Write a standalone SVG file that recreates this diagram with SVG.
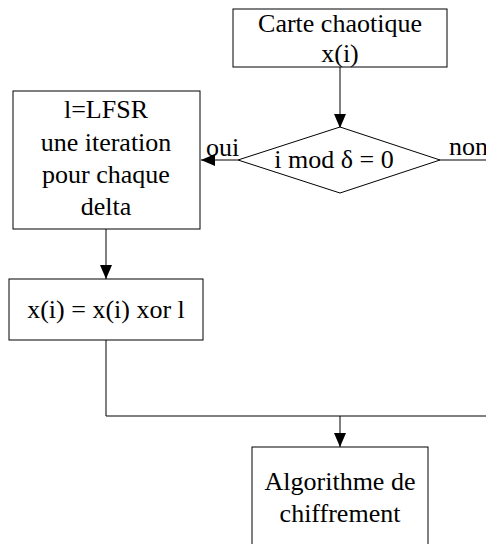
<svg xmlns="http://www.w3.org/2000/svg" width="486" height="544" viewBox="0 0 486 544">
<style>
.box{fill:#fff;stroke:#000;stroke-width:1}
.t{font-family:"Liberation Serif","Times New Roman",serif;font-size:26px;fill:#000}
.c{text-anchor:middle}
.ln{fill:none;stroke:#000;stroke-width:1}
</style>
<defs>
<marker id="ah" markerWidth="14" markerHeight="12" refX="14" refY="6" orient="auto" markerUnits="userSpaceOnUse">
<path d="M0,0 L14,6 L0,12 Z" fill="#000"/>
</marker>
</defs>
<rect width="486" height="544" fill="#fff"/>
<g id="connectors">
<line class="ln" x1="340" y1="67" x2="340" y2="128" marker-end="url(#ah)"/>
<line class="ln" x1="238" y1="160" x2="201" y2="160" marker-end="url(#ah)"/>
<line class="ln" x1="440" y1="160" x2="486" y2="160"/>
<line class="ln" x1="106" y1="229" x2="106" y2="279" marker-end="url(#ah)"/>
<polyline class="ln" points="106,340 106,416 486,416"/>
<line class="ln" x1="340" y1="416" x2="340" y2="447" marker-end="url(#ah)"/>
<text class="t" x="206" y="156">oui</text>
<text class="t" x="449" y="155">non</text>
</g>
<g id="carte">
<rect class="box" x="233" y="9" width="214" height="58"/>
<text class="t c" x="340" y="32">Carte chaotique</text>
<text class="t c" x="340" y="62">x(i)</text>
</g>
<g id="decision">
<polygon class="box" points="340,127 440,160 340,193 238,160"/>
<text class="t c" x="334" y="168">i mod δ = 0</text>
</g>
<g id="lfsr">
<rect class="box" x="13" y="91" width="187" height="138"/>
<text class="t c" x="106" y="118">l=LFSR</text>
<text class="t c" x="106" y="151">une iteration</text>
<text class="t c" x="106" y="183">pour chaque</text>
<text class="t c" x="106" y="215">delta</text>
</g>
<g id="xor">
<rect class="box" x="9" y="279" width="194" height="61"/>
<text class="t c" x="106" y="318">x(i) = x(i) xor l</text>
</g>
<g id="algo">
<rect class="box" x="252" y="447" width="176" height="110"/>
<text class="t c" x="340" y="490">Algorithme de</text>
<text class="t c" x="340" y="522">chiffrement</text>
</g>
</svg>
